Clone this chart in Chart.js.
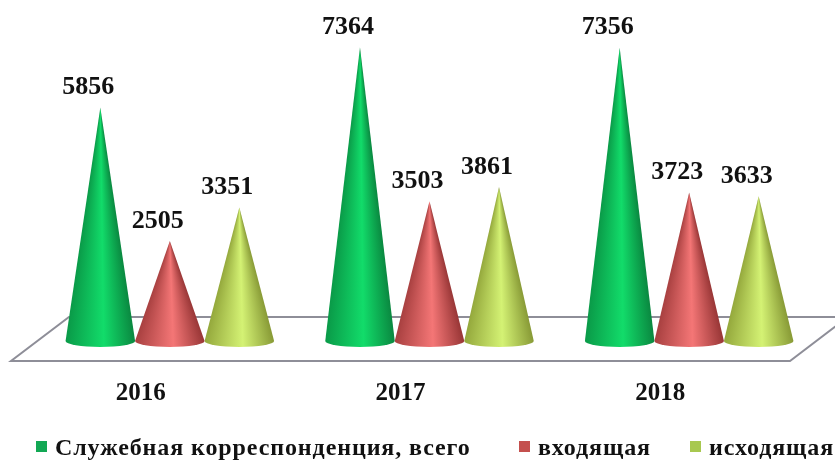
<!DOCTYPE html>
<html>
<head>
<meta charset="utf-8">
<style>
  html, body { margin: 0; background: #fff; overflow: hidden; }
  #wrap { position: relative; width: 835px; height: 461px; filter: blur(0.5px); }
  #legend { position: absolute; top: 434px; left: 0; width: 835px; height: 26px; white-space: nowrap;
    font: bold 24px "Liberation Serif", serif; letter-spacing: 0.9px; color: #111; }
  #legend span { position: absolute; top: 0; line-height: 26px; }
  #legend i { position: absolute; top: 7px; width: 11px; height: 11px; }
</style>
<script src="https://cdn.jsdelivr.net/npm/chart.js@4"></script>
</head>
<body>
<div id="wrap">
  <canvas id="chart" width="835" height="461"></canvas>
  <div id="legend"></div>
</div>
<script>
const years = ['2016', '2017', '2018'];
const total = [5856, 7364, 7356];
const incoming = [2505, 3503, 3723];
const outgoing = [3351, 3861, 3633];

const seriesNames = ['Служебная корреспонденция, всего', 'входящая', 'исходящая'];
const legendX = [36, 519, 690];

// edge, middle, edge
const shades = [
  ['#0a9a48', '#12dc6a', '#0a8840'],
  ['#a84040', '#f47676', '#983636'],
  ['#94a83c', '#d4f274', '#889a36'],
];

const labelFont = 'bold 26px "Liberation Serif", serif';

function drawCone(ctx, bar, colors) {
  const rx = bar.width / 2;
  const ry = 6;
  const h = bar.base - bar.y;
  const half = Math.atan2(rx, h);
  // bands of a cone meet in the apex
  const grad = ctx.createConicGradient(Math.PI / 2 - half, bar.x, bar.y);
  const span = 2 * half / (2 * Math.PI);
  grad.addColorStop(0, colors[2]);
  grad.addColorStop(span * 0.45, colors[1]);
  grad.addColorStop(span, colors[0]);
  grad.addColorStop(1, colors[2]);
  ctx.beginPath();
  ctx.moveTo(bar.x, bar.y);
  ctx.lineTo(bar.x + rx, bar.base);
  ctx.ellipse(bar.x, bar.base, rx, ry, 0, 0, Math.PI);
  ctx.closePath();
  ctx.fillStyle = grad;
  ctx.fill();
}

const conePlugin = {
  id: 'cones',
  beforeDatasetsDraw(chart) {
    // floor of the 3D chart
    const { ctx, chartArea: a } = chart;
    ctx.save();
    ctx.beginPath();
    ctx.moveTo(a.left - 29, a.bottom + 20);
    ctx.lineTo(a.right - 29, a.bottom + 20);
    ctx.lineTo(a.right + 29, a.bottom - 24);
    ctx.lineTo(a.left + 29, a.bottom - 24);
    ctx.closePath();
    ctx.strokeStyle = '#8e8e98';
    ctx.lineWidth = 2;
    ctx.stroke();
    ctx.restore();
  },
  beforeDatasetDraw() {
    return false;
  },
  afterDatasetsDraw(chart) {
    const { ctx } = chart;
    ctx.save();
    chart.data.datasets.forEach((ds, i) => {
      chart.getDatasetMeta(i).data.forEach(bar => drawCone(ctx, bar, shades[i]));
    });
    ctx.font = labelFont;
    ctx.fillStyle = '#111';
    ctx.textAlign = 'center';
    ctx.textBaseline = 'middle';
    chart.data.datasets.forEach((ds, i) => {
      chart.getDatasetMeta(i).data.forEach((bar, j) => {
        ctx.fillText(ds.data[j], bar.x - 12, bar.y - 20);
      });
    });
    ctx.restore();
  },
};

const chart = new Chart(document.getElementById('chart').getContext('2d'), {
  type: 'bar',
  data: {
    labels: years,
    datasets: [
      { label: seriesNames[0], data: total, backgroundColor: '#12a854' },
      { label: seriesNames[1], data: incoming, backgroundColor: '#c4504e' },
      { label: seriesNames[2], data: outgoing, backgroundColor: '#a8c850' },
    ],
  },
  options: {
    responsive: false,
    animation: false,
    layout: { padding: { left: 40, right: 16, top: 22, bottom: 22 } },
    datasets: { bar: { categoryPercentage: 0.803, barPercentage: 1 } },
    scales: {
      x: {
        grid: { display: false },
        border: { display: false },
        ticks: {
          padding: 30,
          labelOffset: -29,
          maxRotation: 0,
          color: '#111',
          font: { family: '"Liberation Serif", serif', size: 25, weight: 'bold' },
        },
      },
      y: { display: false, min: 0, max: 8000 },
    },
    plugins: {
      legend: { display: false },
      tooltip: { enabled: false },
    },
  },
  plugins: [conePlugin],
});

// html legend, the last label runs up to the window edge
const legendEl = document.getElementById('legend');
chart.data.datasets.forEach((ds, i) => {
  const box = document.createElement('i');
  box.style.left = legendX[i] + 'px';
  box.style.background = ds.backgroundColor;
  const text = document.createElement('span');
  text.style.left = (legendX[i] + 19) + 'px';
  text.textContent = ds.label;
  legendEl.append(box, text);
});
</script>
</body>
</html>
